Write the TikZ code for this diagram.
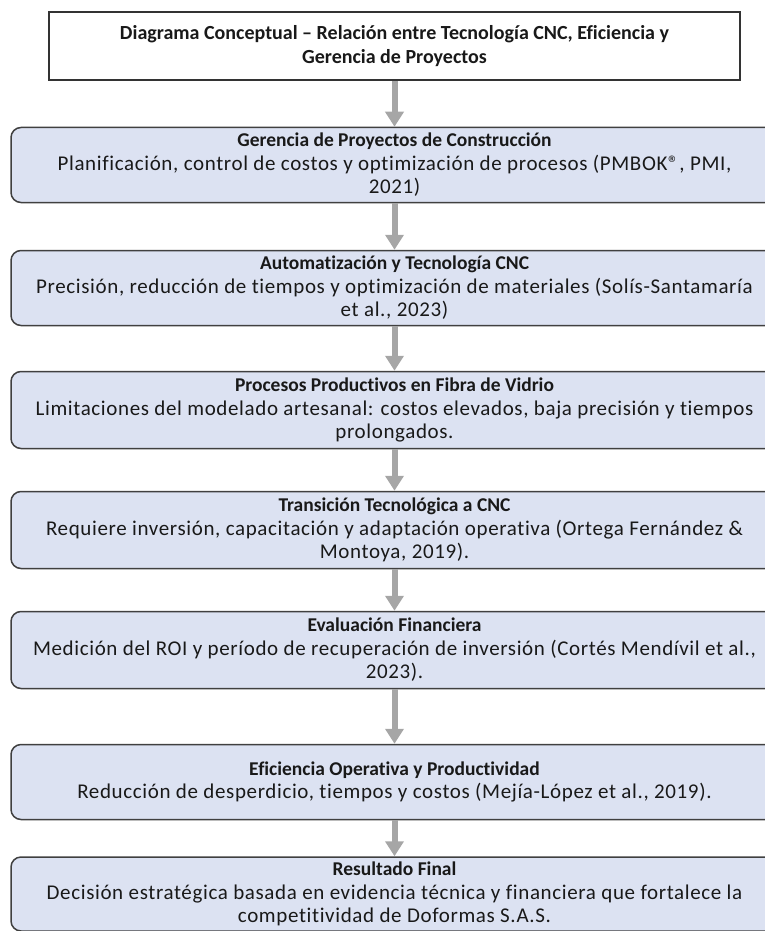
\documentclass[tikz,border=0pt]{standalone}
\usepackage{fontspec}
\setmainfont{Carlito}[Ligatures=NoCommon]
\newfontfamily\bodyfont[LetterSpace=3,Ligatures=NoCommon]{Carlito}
\usetikzlibrary{arrows.meta}
\definecolor{boxfill}{HTML}{DCE2F2}
\definecolor{boxline}{HTML}{404040}
\definecolor{arrowgray}{HTML}{A6A6A6}
\newcommand{\detalle}{\bodyfont\fontsize{21}{23.5}\selectfont}
\begin{document}
\begin{tikzpicture}[x=1pt,y=1pt]
\tikzstyle{every node}+=[inner sep=0pt, align=center, text=black!90, font=\fontsize{19.5}{23.5}\selectfont]
\tikzstyle{heading}=[draw=black!80, line width=1.8pt, fill=white, minimum width=691pt, minimum height=68pt, font=\bfseries\fontsize{20}{23.5}\selectfont]
\tikzstyle{stage}=[draw=boxline, line width=1.5pt, fill=boxfill, rounded corners=10pt, minimum width=767pt, minimum height=75pt]
\tikzstyle{flow}=[draw=arrowgray, line width=6pt, -{Triangle[length=15pt,width=18pt]}]
\clip (0,0) rectangle (765,-931);
\node [heading] (title) at (394.5,-46) {Diagrama Conceptual -- Relación entre Tecnología CNC, Eficiencia y\\Gerencia de Proyectos};
\node [stage] (gerencia) at (394.5,-165) {\textbf{Gerencia de Proyectos de Construcción}\\\detalle Planificación, control de costos y optimización de procesos (PMBOK®, PMI,\\\detalle 2021)};
\node [stage] (cnc) at (394.5,-288) {\textbf{Automatización y Tecnología CNC}\\\detalle Precisión, reducción de tiempos y optimización de materiales (Solís-Santamaría\\\detalle et al., 2023)};
\node [stage, minimum height=77pt] (fibra) at (394.5,-410) {\textbf{Procesos Productivos en Fibra de Vidrio}\\\detalle Limitaciones del modelado artesanal: costos elevados, baja precisión y tiempos\\\detalle prolongados.};
\node [stage, minimum height=77pt] (transicion) at (394.5,-530) {\textbf{Transición Tecnológica a CNC}\\\detalle Requiere inversión, capacitación y adaptación operativa (Ortega Fernández \&\\\detalle Montoya, 2019).};
\node [stage, minimum height=77pt] (financiera) at (394.5,-650) {\textbf{Evaluación Financiera}\\\detalle Medición del ROI y período de recuperación de inversión (Cortés Mendívil et al.,\\\detalle 2023).};
\node [stage, minimum height=75pt] (eficiencia) at (394.5,-782) {\textbf{Eficiencia Operativa y Productividad}\\\detalle Reducción de desperdicio, tiempos y costos (Mejía-López et al., 2019).};
\node [stage, minimum height=74pt] (resultado) at (394.5,-894) {\textbf{Resultado Final}\\\detalle Decisión estratégica basada en evidencia técnica y financiera que fortalece la\\\detalle competitividad de Doformas S.A.S.};
% flechas entre etapas
\draw [flow] (title) -- (gerencia);
\draw [flow] (gerencia) -- (cnc);
\draw [flow] (cnc) -- (fibra);
\draw [flow] (fibra) -- (transicion);
\draw [flow] (transicion) -- (financiera);
\draw [flow] (financiera) -- (eficiencia);
\draw [flow] (eficiencia) -- (resultado);
\end{tikzpicture}
\end{document}
